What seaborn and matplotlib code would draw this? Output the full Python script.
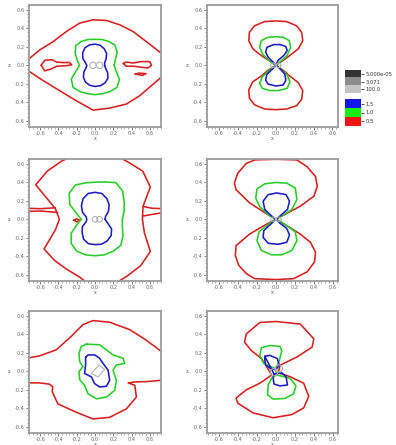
import numpy as np
import pandas as pd
import matplotlib
matplotlib.use("Agg")
import matplotlib.pyplot as plt
import seaborn as sns
from matplotlib.ticker import FixedLocator, AutoMinorLocator, FormatStrFormatter
from matplotlib.colors import ListedColormap

sns.set_theme(style="white")
plt.rcParams["font.family"] = ["DejaVu Sans"]

# ---------------------------------------------------------------- data
TICKS = [-0.6, -0.4, -0.2, 0.0, 0.2, 0.4, 0.6]
LEVEL_LABELS = ["1.5", "1.0", "0.5"]
GRAY_LABELS = ["5.000e-05", "3.071", "100.0"]

# closed contours given as radius (data units) every 15 degrees
ANG = np.arange(0, 360, 15)

# panel A (top left)
A_RED_TOP_X = [-0.76, -0.608, -0.46, -0.315, -0.168, -0.022, 0.125, 0.271, 0.418, 0.564, 0.76]
A_RED_TOP_Z = [0.04, 0.165, 0.256, 0.366, 0.458, 0.494, 0.487, 0.44, 0.366, 0.256, 0.105]
A_RED_BOT_X = [-0.76, -0.571, -0.388, -0.205, -0.022, 0.161, 0.344, 0.491, 0.619, 0.76]
A_RED_BOT_Z = [-0.04, -0.165, -0.275, -0.385, -0.487, -0.465, -0.421, -0.33, -0.22, -0.10]
A_ISL1_X = [-0.59, -0.55, -0.47, -0.42, -0.36, -0.28, -0.255, -0.32, -0.42, -0.48, -0.55, -0.59]
A_ISL1_Z = [0.0, 0.055, 0.06, 0.035, 0.03, 0.03, 0.005, -0.005, -0.01, -0.04, -0.06, 0.0]
A_ISL2_X = [0.31, 0.34, 0.42, 0.50, 0.60, 0.62, 0.58, 0.50, 0.42, 0.34, 0.31]
A_ISL2_Z = [0.02, 0.035, 0.025, 0.04, 0.04, 0.0, -0.03, -0.02, -0.01, -0.01, 0.02]
A_ISL3_X = [0.44, 0.48, 0.56, 0.52, 0.44]
A_ISL3_Z = [-0.095, -0.085, -0.09, -0.11, -0.095]
A_GREEN_R = [0.21, 0.23, 0.28, 0.31, 0.30, 0.29, 0.282, 0.29, 0.30, 0.30, 0.25, 0.20,
             0.17, 0.21, 0.30, 0.34, 0.33, 0.32, 0.319, 0.32, 0.33, 0.34, 0.31, 0.24]
A_BLUE_R = [0.105, 0.11, 0.14, 0.18, 0.205, 0.225, 0.23, 0.23, 0.22, 0.19, 0.155, 0.11,
            0.09, 0.10, 0.14, 0.18, 0.21, 0.225, 0.23, 0.23, 0.22, 0.20, 0.16, 0.12]
A_GRAY_CX = [-0.022, 0.051]

# panel B (top right)
B_RED_X = [0, 0.079, 0.15, 0.239, 0.286, 0.275, 0.221, 0.114, 0, -0.118, -0.225, -0.279, -0.286,
           -0.243, -0.154, -0.064, 0, -0.082, -0.154, -0.243, -0.286, -0.279, -0.225, -0.118, 0,
           0.114, 0.221, 0.275, 0.286, 0.239, 0.15, 0.079, 0]
B_RED_Z = [0, 0.054, 0.107, 0.179, 0.268, 0.357, 0.429, 0.475, 0.482, 0.475, 0.429, 0.357, 0.268,
           0.179, 0.107, 0.046, 0, -0.054, -0.118, -0.179, -0.268, -0.357, -0.429, -0.475, -0.482,
           -0.475, -0.439, -0.368, -0.275, -0.189, -0.118, -0.054, 0]
B_GREEN_X = [0, 0.043, 0.121, 0.157, 0.143, 0.079, 0, -0.082, -0.154, -0.171, -0.136, -0.057, 0,
             -0.057, -0.143, -0.171, -0.143, -0.064, 0.025, 0.121, 0.15, 0.121, 0.05, 0]
B_GREEN_Z = [0, 0.036, 0.107, 0.196, 0.268, 0.304, 0.31, 0.304, 0.268, 0.196, 0.118, 0.039, 0,
             -0.046, -0.125, -0.196, -0.25, -0.275, -0.275, -0.25, -0.179, -0.107, -0.036, 0]
B_BLUE_X = [0, 0.025, 0.086, 0.121, 0.107, 0.05, -0.021, -0.093, -0.107, -0.082, -0.029, 0,
            -0.029, -0.093, -0.107, -0.082, 0, 0.079, 0.107, 0.096, 0.043, 0]
B_BLUE_Z = [0, 0.054, 0.107, 0.161, 0.204, 0.225, 0.225, 0.196, 0.143, 0.089, 0.036, 0,
            -0.036, -0.096, -0.161, -0.204, -0.225, -0.214, -0.161, -0.096, -0.036, 0]
B_GRAY_CX = [-0.03, 0.03]

# panel C (middle left)
C_RED_R = [0.52, 0.545, 0.70, 0.74, 0.72, 0.74, 0.76, 0.74, 0.73, 0.74, 0.75, 0.45,
           0.39, 0.45, 0.645, 0.63, 0.625, 0.65, 0.76, 0.74, 0.71, 0.71, 0.70, 0.56]
C_SPUR_L1_X = [-0.435, -0.60, -0.76]
C_SPUR_L1_Z = [0.125, 0.115, 0.12]
C_SPUR_L2_X = [-0.76, -0.60, -0.41]
C_SPUR_L2_Z = [0.085, 0.09, 0.075]
C_SPUR_R1_X = [0.53, 0.62, 0.76]
C_SPUR_R1_Z = [0.14, 0.12, 0.115]
C_SPUR_R2_X = [0.76, 0.64, 0.52]
C_SPUR_R2_Z = [0.075, 0.055, 0.035]
C_ISL_X = [-0.234, -0.2, -0.168, -0.2, -0.234]
C_ISL_Z = [-0.01, 0.005, -0.01, -0.028, -0.01]
C_GREEN_R = [0.30, 0.33, 0.37, 0.43, 0.46, 0.42, 0.403, 0.41, 0.43, 0.40, 0.32, 0.20,
             0.15, 0.20, 0.30, 0.37, 0.40, 0.40, 0.396, 0.40, 0.40, 0.40, 0.355, 0.31]
C_BLUE_R = [0.11, 0.12, 0.17, 0.22, 0.26, 0.29, 0.293, 0.29, 0.26, 0.21, 0.16, 0.10,
            0.09, 0.10, 0.16, 0.20, 0.25, 0.275, 0.275, 0.28, 0.27, 0.25, 0.21, 0.14]
C_GRAY_CX = [0.0, 0.05]

# panel D (middle right)
D_RED_X = [0, 0.096, 0.257, 0.40, 0.436, 0.418, 0.329, 0.221, 0, -0.225, -0.314, -0.404, -0.439,
           -0.421, -0.279, -0.118, 0, -0.118, -0.279, -0.421, -0.429, -0.393, -0.314, -0.225, 0,
           0.186, 0.329, 0.407, 0.418, 0.364, 0.257, 0.107, 0]
D_RED_Z = [0, 0.054, 0.143, 0.25, 0.357, 0.464, 0.571, 0.645, 0.652, 0.645, 0.607, 0.5, 0.393,
           0.321, 0.179, 0.071, 0, -0.064, -0.161, -0.286, -0.393, -0.5, -0.589, -0.645, -0.655,
           -0.645, -0.571, -0.464, -0.357, -0.25, -0.161, -0.064, 0]
D_GREEN_X = [0, 0.061, 0.168, 0.221, 0.204, 0.114, 0, -0.118, -0.2, -0.214, -0.171, -0.064, 0,
             -0.064, -0.179, -0.2, -0.154, -0.046, 0.061, 0.168, 0.221, 0.204, 0.079, 0]
D_GREEN_Z = [0, 0.036, 0.107, 0.214, 0.339, 0.393, 0.40, 0.386, 0.329, 0.232, 0.136, 0.036, 0,
             -0.043, -0.136, -0.232, -0.339, -0.386, -0.386, -0.339, -0.232, -0.136, -0.043, 0]
D_BLUE_X = [0, 0.043, 0.121, 0.143, 0.107, 0.007, -0.082, -0.136, -0.118, -0.046, 0,
            -0.046, -0.129, -0.136, -0.082, 0.025, 0.114, 0.143, 0.114, 0.043, 0]
D_BLUE_Z = [0, 0.036, 0.107, 0.196, 0.268, 0.286, 0.268, 0.196, 0.107, 0.036, 0,
            -0.043, -0.125, -0.196, -0.261, -0.271, -0.25, -0.171, -0.10, -0.043, 0]
D_GRAY_CX = [-0.03, 0.03]

# panel E (bottom left)
E_RED_TOP_X = [-0.76, -0.608, -0.425, -0.26, -0.132, -0.022, 0.161, 0.381, 0.527, 0.656, 0.76]
E_RED_TOP_Z = [0.14, 0.167, 0.233, 0.379, 0.507, 0.551, 0.533, 0.452, 0.361, 0.269, 0.19]
E_RED_BOT_X = [-0.76, -0.608, -0.498, -0.462, -0.47, -0.407, -0.205, -0.022, 0.161, 0.344,
               0.454, 0.436, 0.363, 0.45, 0.564, 0.76]
E_RED_BOT_Z = [-0.125, -0.126, -0.14, -0.17, -0.22, -0.354, -0.445, -0.518, -0.50, -0.408,
               -0.28, -0.152, -0.126, -0.115, -0.112, -0.095]
E_GREEN_X = [-0.095, 0.051, 0.125, 0.198, 0.308, 0.326, 0.234, 0.198, 0.234, 0.216, 0.125, 0.015,
             -0.077, -0.114, -0.168, -0.176, -0.132, -0.168, -0.176, -0.15, -0.095]
E_GREEN_Z = [0.295, 0.288, 0.233, 0.178, 0.141, 0.086, 0.068, 0.013, -0.097, -0.207, -0.28, -0.299,
             -0.244, -0.152, -0.09, -0.005, 0.049, 0.104, 0.196, 0.269, 0.295]
E_BLUE_X = [-0.103, -0.077, -0.004, 0.051, 0.088, 0.143, 0.161, 0.125, 0.051, -0.004, -0.04,
            -0.114, -0.103, -0.103]
E_BLUE_Z = [0.152, 0.178, 0.178, 0.141, 0.086, 0.013, -0.097, -0.163, -0.17, -0.134, -0.06,
            -0.024, 0.068, 0.152]
E_GRAY_X = [-0.04, 0.033, 0.106, 0.044, -0.04]
E_GRAY_Z = [-0.024, -0.06, 0.02, 0.068, -0.024]

# panel F (bottom right)
F_RED_X = [0.025, 0.043, 0.221, 0.382, 0.40, 0.257, 0.0, -0.171, -0.314, -0.332, -0.261, -0.154,
           -0.118, -0.046, -0.171, -0.314, -0.421, -0.404, -0.243, -0.029, 0.168, 0.293, 0.346,
           0.293, 0.15, 0.025]
F_RED_Z = [-0.016, 0.066, 0.155, 0.263, 0.352, 0.513, 0.541, 0.53, 0.405, 0.316, 0.227, 0.138,
           0.084, -0.041, -0.13, -0.202, -0.291, -0.345, -0.452, -0.505, -0.47, -0.398, -0.273,
           -0.13, -0.059, -0.016]
F_GREEN_X = [-0.011, -0.129, -0.171, -0.154, -0.064, 0.043, 0.061, 0.036, 0.007, -0.011,
             0.014, 0.15, 0.211, 0.186, 0.096, -0.029, -0.089, -0.082, -0.036, 0.014]
F_GREEN_Z = [0.03, 0.084, 0.173, 0.255, 0.28, 0.27, 0.22, 0.12, 0.048, 0.03,
             -0.041, -0.077, -0.159, -0.245, -0.295, -0.302, -0.255, -0.148, -0.059, -0.041]
F_BLUE_X = [-0.118, -0.064, 0.014, 0.036, 0.0, -0.057, -0.107, -0.118, -0.118,
            -0.021, 0.061, 0.107, 0.121, 0.043, -0.021, -0.029, -0.021]
F_BLUE_Z = [0.163, 0.173, 0.138, 0.066, 0.02, 0.03, 0.066, 0.12, 0.163,
            -0.03, -0.016, -0.059, -0.148, -0.159, -0.138, -0.077, -0.03]
F_GRAY_CX = [-0.02, 0.03]
F_GRAY_CZ = [-0.01, 0.03]

# ---------------------------------------------------------------- style
RED, GREEN, BLUE, GRAY = "#d42020", "#28cc28", "#1c1cc0", "#b4b4b4"
SWATCH_LEVELS = ["#1414f0", "#14f014", "#f01414"]
SWATCH_GRAY = ["#333333", "#8c8c8c", "#c4c4c4"]
LW = 1.15

W, H = 396, 445
fig = plt.figure(figsize=(W / 100, H / 100), dpi=100)
fig.patch.set_facecolor("white")

LEFT_X, RIGHT_X = 29.3, 207.3
ROW_TOP = [5.0, 159.0, 311.0]
AX_H = 121.5


def add_panel(px_left, px_top, px_w, xlim):
    ax = fig.add_axes([px_left / W, 1 - (px_top + AX_H) / H, px_w / W, AX_H / H])
    ax.set_xlim(*xlim)
    ax.set_ylim(-0.665, 0.655)
    return ax


def style(ax):
    ax.xaxis.set_major_locator(FixedLocator(TICKS))
    ax.yaxis.set_major_locator(FixedLocator(TICKS))
    ax.xaxis.set_major_formatter(FormatStrFormatter("%.1f"))
    ax.yaxis.set_major_formatter(FormatStrFormatter("%.1f"))
    ax.xaxis.set_minor_locator(AutoMinorLocator(5))
    ax.yaxis.set_minor_locator(AutoMinorLocator(5))
    ax.tick_params(which="major", length=2.2, width=0.6, labelsize=3.6,
                   colors="#666666", pad=1.2, direction="out",
                   bottom=True, left=True)
    ax.tick_params(which="minor", length=1.1, width=0.5, colors="#888888",
                   direction="out", bottom=True, left=True)
    for s in ax.spines.values():
        s.set_color("#9c9c9c")
        s.set_linewidth(1.3)
    ax.set_xlabel("x", fontsize=3.4, labelpad=-0.5, color="#555555")
    ax.set_ylabel("z", fontsize=3.6, rotation=0, labelpad=4, color="#555555",
                  va="center")


def line(ax, x, z, color, lw=LW):
    df = pd.DataFrame({"x": np.asarray(x, float), "z": np.asarray(z, float)})
    sns.lineplot(data=df, x="x", y="z", sort=False, estimator=None,
                 color=color, lw=lw, ax=ax)


def polar(r, cx=0.0, cz=0.0):
    t = np.deg2rad(np.append(ANG, ANG[0]))
    rr = np.append(r, r[0])
    return cx + rr * np.cos(t), cz + rr * np.sin(t)


def circle(ax, cx, cz, rad=0.03):
    x, z = polar(np.full(len(ANG), rad), cx, cz)
    line(ax, x, z, GRAY, lw=0.8)


LX = (-0.72, 0.72)
RX = (-0.725, 0.655)

# panel A
ax = add_panel(LEFT_X, ROW_TOP[0], 131.4, LX)
line(ax, A_RED_TOP_X, A_RED_TOP_Z, RED)
line(ax, A_RED_BOT_X, A_RED_BOT_Z, RED)
line(ax, A_ISL1_X, A_ISL1_Z, RED)
line(ax, A_ISL2_X, A_ISL2_Z, RED)
line(ax, A_ISL3_X, A_ISL3_Z, RED)
line(ax, *polar(A_GREEN_R), GREEN)
line(ax, *polar(A_BLUE_R), BLUE)
for cx in A_GRAY_CX:
    circle(ax, cx, 0.0, 0.035)
style(ax)

# panel B
ax = add_panel(RIGHT_X, ROW_TOP[0], 130.3, RX)
line(ax, B_RED_X, B_RED_Z, RED)
line(ax, B_GREEN_X, B_GREEN_Z, GREEN)
line(ax, B_BLUE_X, B_BLUE_Z, BLUE)
for cx in B_GRAY_CX:
    circle(ax, cx, 0.0, 0.025)
style(ax)

# panel C
ax = add_panel(LEFT_X, ROW_TOP[1], 131.4, LX)
line(ax, *polar(C_RED_R), RED)
line(ax, C_SPUR_L1_X, C_SPUR_L1_Z, RED)
line(ax, C_SPUR_L2_X, C_SPUR_L2_Z, RED)
line(ax, C_SPUR_R1_X, C_SPUR_R1_Z, RED)
line(ax, C_SPUR_R2_X, C_SPUR_R2_Z, RED)
line(ax, C_ISL_X, C_ISL_Z, RED)
line(ax, *polar(C_GREEN_R), GREEN)
line(ax, *polar(C_BLUE_R), BLUE)
for cx in C_GRAY_CX:
    circle(ax, cx, 0.0, 0.03)
style(ax)

# panel D
ax = add_panel(RIGHT_X, ROW_TOP[1], 130.7, RX)
line(ax, D_RED_X, D_RED_Z, RED)
line(ax, D_GREEN_X, D_GREEN_Z, GREEN)
line(ax, D_BLUE_X, D_BLUE_Z, BLUE)
for cx in D_GRAY_CX:
    circle(ax, cx, 0.0, 0.025)
style(ax)

# panel E
ax = add_panel(LEFT_X, ROW_TOP[2], 131.4, LX)
line(ax, E_RED_TOP_X, E_RED_TOP_Z, RED)
line(ax, E_RED_BOT_X, E_RED_BOT_Z, RED)
line(ax, E_GREEN_X, E_GREEN_Z, GREEN)
line(ax, E_BLUE_X, E_BLUE_Z, BLUE)
line(ax, E_GRAY_X, E_GRAY_Z, GRAY, lw=0.8)
style(ax)

# panel F
ax = add_panel(RIGHT_X, ROW_TOP[2], 130.7, RX)
line(ax, F_RED_X, F_RED_Z, RED)
line(ax, F_GREEN_X, F_GREEN_Z, GREEN)
line(ax, F_BLUE_X, F_BLUE_Z, BLUE)
for cx, cz in zip(F_GRAY_CX, F_GRAY_CZ):
    circle(ax, cx, cz, 0.04)
style(ax)


# level keys
def key(px_top, px_h, colors, labels):
    k = fig.add_axes([345 / W, 1 - (px_top + px_h) / H, 16 / W, px_h / H])
    k.imshow(np.arange(len(colors))[:, None], cmap=ListedColormap(colors),
             aspect="auto", interpolation="nearest")
    k.set_xticks([])
    k.set_yticks(range(len(labels)))
    k.set_yticklabels(labels)
    k.yaxis.tick_right()
    k.tick_params(axis="y", length=2, width=0.6, labelsize=3.8, pad=1,
                  colors="#333333", right=True)
    for s in k.spines.values():
        s.set_visible(False)


key(70.0, 23.3, SWATCH_GRAY, GRAY_LABELS)
key(99.3, 26.4, SWATCH_LEVELS, LEVEL_LABELS)

fig.savefig("out.png", dpi=100, facecolor="white")
